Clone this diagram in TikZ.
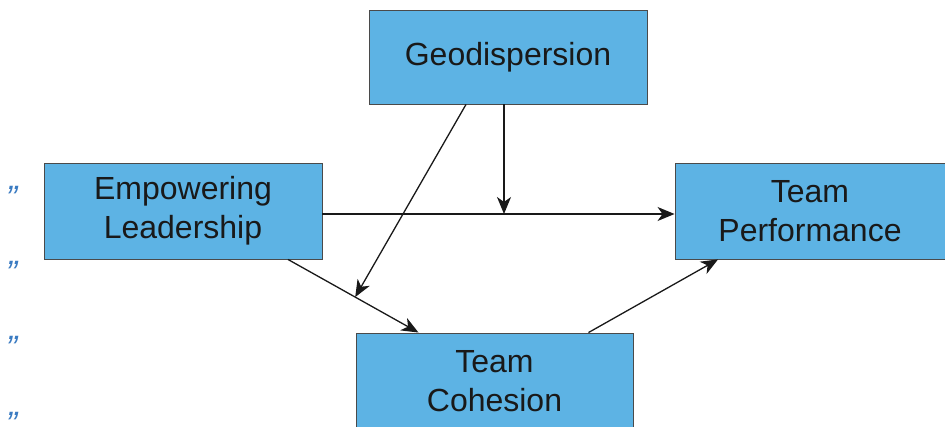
\documentclass[tikz,border=0pt]{standalone}
\usepackage{fontspec}
\setmainfont{Liberation Sans}
\usetikzlibrary{arrows.meta, calc}
\definecolor{boxblue}{HTML}{5DB3E4}
\definecolor{boxedge}{HTML}{4A4A4A}
\definecolor{markblue}{HTML}{3A7BC2}
\tikzset{
  box/.style={draw=boxedge, line width=0.9pt, fill=boxblue, inner sep=0pt, align=center,
    font=\fontsize{32}{39}\selectfont, text=black!90},
  link/.style={line width=1.3pt, draw=black!90, -{Stealth[length=17pt, width=14pt, inset=5pt]}},
  qmark/.style={text=markblue, font=\itshape\fontsize{34}{34}\selectfont, inner sep=0pt, anchor=base}
}
\begin{document}
\begin{tikzpicture}[x=1pt, y=-1pt]
  \useasboundingbox (0,0) rectangle (945,427);
  \node[box, minimum width=278pt, minimum height=94pt] (geo) at (508,57) {Geodispersion};
  \node[box, minimum width=278pt, minimum height=96pt] (el) at (183,211) {Empowering\\Leadership};
  \node[box, minimum width=270pt, minimum height=96pt] (tp) at (810,211) {Team\\Performance};
  \node[box, minimum width=277pt, minimum height=96pt] (tc) at (494.5,381) {Team\\Cohesion};
  \foreach \y [count=\i] in {190,265,340,416}
    \node[qmark] (q\i) at (15,\y) {„};
  \coordinate (elout) at ([yshift=-3pt]el.east);
  \coordinate (tpin) at (elout -| tp.west);
  \coordinate (geo1) at ([xshift=-4pt]geo.south);
  \coordinate (geo2) at ([xshift=-42pt]geo.south);
  \coordinate (m1) at (geo1 |- elout);
  \coordinate (elbot) at ([xshift=105pt]el.south);
  \coordinate (tctop) at ([xshift=-76pt]tc.north);
  \coordinate (m2) at ($(elbot)!0.515!(tctop)$);
  \coordinate (tcout) at ([xshift=94pt]tc.north);
  \coordinate (tpbot) at ([xshift=-92pt]tp.south);
  \draw[link] (elout) -- (tpin);
  \draw[link] (geo1) -- (m1);
  \draw[link] (geo2) -- (m2);
  \draw[link] (elbot) -- (tctop);
  \draw[link] (tcout) -- (tpbot);
\end{tikzpicture}
\end{document}
